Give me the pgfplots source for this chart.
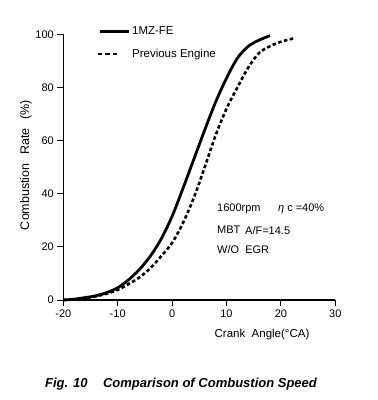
\documentclass[border=0pt]{standalone}
\usepackage{fontspec}
\setmainfont{Liberation Sans}
\usepackage{pgfplots}
\pgfplotsset{compat=1.18}
\tikzset{annot/.style={anchor=west, inner sep=0pt, font=\fontsize{11}{13}\selectfont}}
\begin{document}
\begin{tikzpicture}[x=1pt,y=1pt]
\useasboundingbox (0,0) rectangle (378,400);
\begin{axis}[
  at={(63.3pt,100pt)}, anchor=south west,
  scale only axis, width=272pt, height=265.7pt,
  xmin=-20, xmax=30, ymin=0, ymax=100,
  axis x line=bottom, axis y line=left,
  axis line style={-, line width=1.3pt},
  xtick={-20,-10,...,30}, ytick={0,20,...,100},
  tick style={line width=0.9pt, black},
  major tick length=6pt, tick align=outside,
  tick label style={font=\fontsize{11}{13}\selectfont},
  /pgf/number format/assume math mode=true,
  clip=false,
  legend style={draw=none, fill=none, at={(0.11,1.045)}, anchor=north west,
    font=\fontsize{11.5}{14}\selectfont, row sep=9pt, cells={anchor=west}},
  legend image code/.code={\draw[#1] (0pt,0pt) -- (29pt,0pt);},
]
\addplot[black, line width=2.8pt, smooth] coordinates {
(-20,0)(-18,0.3)(-16,0.9)(-14,1.6)(-12,2.8)(-10,4.6)(-8,7.6)(-6,11.5)(-4,16.5)(-2,23)(0,31.5)(2,42)(4,53)(6,64)(8,74.5)(10,83.5)(12,91)(14,95.5)(16,97.8)(18,99.5)
};
\addlegendentry{1MZ-FE}
\addplot[black, line width=2.6pt, smooth, dash pattern=on 3.5pt off 2.5pt,
  legend image code/.code={\draw[black, line width=2.6pt, dash pattern=on 4.5pt off 3pt] (-2pt,0pt) -- (19pt,0pt);}] coordinates {
(-20,0)(-18,0.2)(-16,0.7)(-14,1.4)(-12,2.4)(-10,3.8)(-8,6)(-6,8.5)(-4,12)(-2,16.5)(0,21.5)(2,29)(4,38.5)(6,50)(8,62)(10,72)(12,80)(14,87.5)(16,93)(18,95.5)(20,97.2)(22.6,98.6)
};
\addlegendentry{Previous Engine}
\node[annot] at (axis cs:8.25,34.2) {1600rpm};
\node[annot] at (axis cs:19.45,34.2) {\textit{η} c =40\%};
\node[annot] at (axis cs:8.25,26.3) {MBT};
\node[annot] at (axis cs:13.4,26.3) {A/F=14.5};
\node[annot] at (axis cs:8.25,18.8) {W/O\ \ EGR};
\end{axis}
\node[rotate=90, font=\fontsize{12.5}{15}\selectfont] at (26pt,235pt) {Combustion\hspace{0.7em}Rate\hspace{0.7em}(\%)};
\node[font=\fontsize{11.5}{14}\selectfont] at (262pt,65pt) {Crank\ \ Angle(\textdegree CA)};
\node[font=\fontsize{13}{15}\selectfont\bfseries\itshape] at (181pt,16pt) {Fig. 10\hspace{1.2em}Comparison of Combustion Speed};
\end{tikzpicture}
\end{document}
